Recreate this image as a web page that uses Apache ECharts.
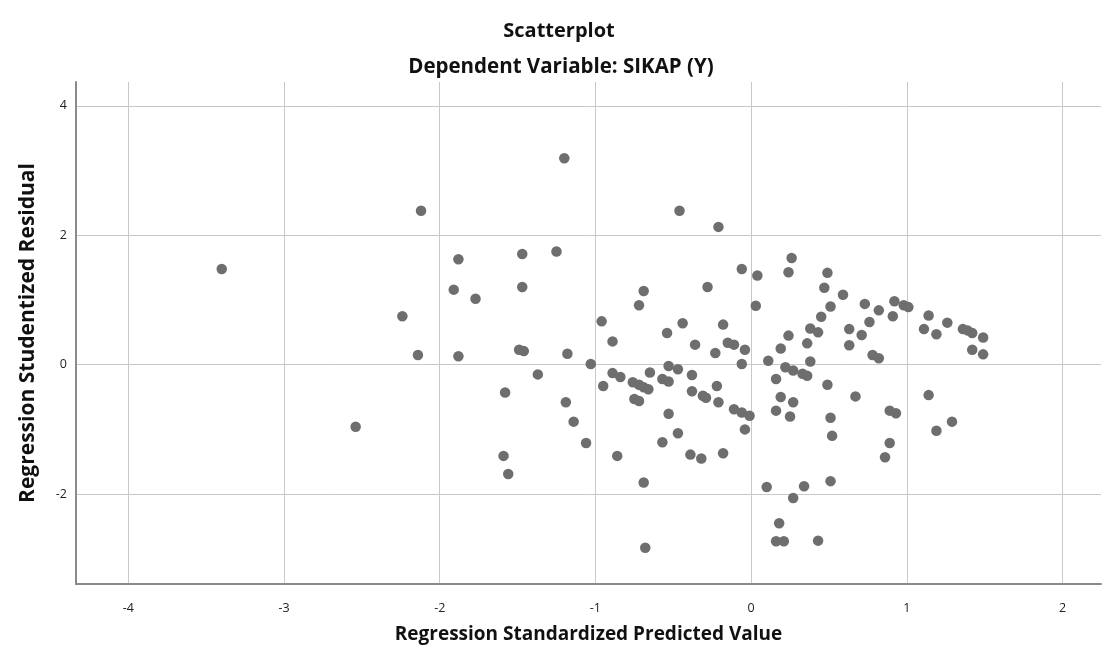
<!DOCTYPE html>
<html>
<head>
<meta charset="utf-8">
<script src="https://cdn.jsdelivr.net/npm/echarts@6/dist/echarts.min.js"></script>
<style>
html,body{margin:0;padding:0;background:#fff;}
#chart{width:1102px;height:648px;}
</style>
</head>
<body>
<div id="chart"></div>
<script>
// Regression Standardized Predicted Value (x)
const predicted = [
  -3.40, -2.54, -2.24, -2.12, -2.14, -1.88, -1.91, -1.88, -1.77, -1.47,
  -1.47, -1.49, -1.46, -1.25, -1.20, -1.18, -1.37, -1.58, -1.19, -1.14,
  -1.06, -1.59, -1.56, -1.03, -0.96, -0.89, -0.89, -0.84, -0.95, -0.86,
  -0.76, -0.72, -0.69, -0.66, -0.65, -0.75, -0.72, -0.72, -0.69, -0.69,
  -0.68, -0.57, -0.53, -0.53, -0.47, -0.54, -0.44, -0.46, -0.53, -0.47,
  -0.57, -0.39, -0.32, -0.38, -0.38, -0.31, -0.29, -0.36, -0.28, -0.23,
  -0.22, -0.21, -0.21, -0.18, -0.18, -0.15, -0.11, -0.11, -0.06, -0.01,
  -0.04, -0.04, -0.06, -0.06, 0.04, 0.03, 0.11, 0.10, 0.16, 0.19,
  0.16, 0.27, 0.25, 0.19, 0.22, 0.27, 0.33, 0.36, 0.38, 0.24,
  0.36, 0.38, 0.43, 0.45, 0.24, 0.26, 0.49, 0.47, 0.51, 0.59,
  0.63, 0.63, 0.71, 0.73, 0.76, 0.78, 0.82, 0.82, 0.91, 0.92,
  0.98, 1.01, 0.49, 0.51, 0.52, 0.67, 0.89, 0.93, 0.89, 0.86,
  0.51, 0.34, 0.27, 0.18, 0.16, 0.21, 0.43, 1.14, 1.29, 1.19,
  1.14, 1.26, 1.11, 1.19, 1.36, 1.39, 1.42, 1.49, 1.42, 1.49
];
// Regression Studentized Residual (y)
const residual = [
  1.48, -0.96, 0.75, 2.38, 0.15, 1.63, 1.16, 0.13, 1.02, 1.71,
  1.20, 0.23, 0.21, 1.75, 3.19, 0.17, -0.15, -0.43, -0.58, -0.88,
  -1.21, -1.41, -1.69, 0.01, 0.67, 0.36, -0.13, -0.19, -0.33, -1.41,
  -0.27, -0.31, -0.35, -0.38, -0.12, -0.53, -0.56, 0.92, 1.14, -1.82,
  -2.83, -0.22, -0.26, -0.02, -0.07, 0.49, 0.64, 2.38, -0.76, -1.06,
  -1.20, -1.39, -1.45, -0.16, -0.41, -0.48, -0.51, 0.31, 1.20, 0.18,
  -0.33, -0.58, 2.13, 0.62, -1.37, 0.34, 0.31, -0.69, -0.74, -0.79,
  -1.00, 0.23, 0.01, 1.48, 1.38, 0.91, 0.06, -1.89, -0.22, -0.50,
  -0.71, -0.58, -0.80, 0.25, -0.04, -0.09, -0.14, -0.17, 0.05, 0.45,
  0.33, 0.56, 0.50, 0.74, 1.43, 1.65, 1.42, 1.19, 0.90, 1.08,
  0.55, 0.30, 0.46, 0.94, 0.66, 0.15, 0.10, 0.84, 0.75, 0.98,
  0.92, 0.89, -0.31, -0.82, -1.10, -0.49, -0.71, -0.75, -1.21, -1.43,
  -1.80, -1.88, -2.06, -2.45, -2.73, -2.73, -2.72, -0.47, -0.88, -1.02,
  0.76, 0.65, 0.55, 0.47, 0.55, 0.53, 0.49, 0.42, 0.23, 0.16
];
const xTicks = [-4, -3, -2, -1, 0, 1, 2];
const yTicks = [-2, 0, 2, 4];
const titleText = 'Scatterplot';
const subtitleText = 'Dependent Variable: SIKAP (Y)';
const xName = 'Regression Standardized Predicted Value';
const yName = 'Regression Studentized Residual';

const points = predicted.map((v, i) => [v, residual[i]]);
const FONT = '"Open Sans", "DejaVu Sans", sans-serif';

const chart = echarts.init(document.getElementById('chart'), null, {renderer: 'canvas'});
chart.setOption({
  animation: false,
  backgroundColor: '#ffffff',
  title: [
    {text: titleText, left: 559, top: 21, textAlign: 'center', padding: 0,
     textStyle: {fontFamily: FONT, fontWeight: 'bold', fontSize: 20, color: '#111'}},
    {text: subtitleText, left: 561, top: 57, textAlign: 'center', padding: 0,
     textStyle: {fontFamily: FONT, fontWeight: 'bold', fontSize: 20.5, color: '#111'}}
  ],
  grid: {left: 76, top: 82, right: 1, bottom: 64, containLabel: false, outerBoundsMode: 'none'},
  xAxis: {
    type: 'value', min: -4.336, max: 2.247,
    name: xName, nameLocation: 'middle', nameGap: 41,
    nameTextStyle: {fontFamily: FONT, fontWeight: 'bold', fontSize: 19, color: '#111'},
    axisLine: {show: true, onZero: false, lineStyle: {color: '#8a8a8a', width: 2}},
    axisTick: {show: false, customValues: xTicks},
    axisLabel: {customValues: xTicks, margin: 18, fontFamily: FONT, fontSize: 12.5, color: '#222'},
    splitLine: {show: true, lineStyle: {color: '#c8c8c8', width: 1}}
  },
  yAxis: {
    type: 'value', min: -3.39, max: 4.37,
    name: yName, nameLocation: 'middle', nameGap: 37, nameRotate: 90,
    nameTextStyle: {fontFamily: FONT, fontWeight: 'bold', fontSize: 21, color: '#111'},
    axisLine: {show: true, onZero: false, lineStyle: {color: '#8a8a8a', width: 2}},
    axisTick: {show: false, customValues: yTicks},
    axisLabel: {customValues: yTicks, margin: 9, fontFamily: FONT, fontSize: 12.5, color: '#222'},
    splitLine: {show: true, lineStyle: {color: '#c8c8c8', width: 1}}
  },
  series: [{
    type: 'scatter',
    data: points,
    symbol: 'circle',
    symbolSize: 10.5,
    itemStyle: {color: '#6e6e6e', opacity: 1},
    emphasis: {disabled: true}
  }]
});
</script>
</body>
</html>
